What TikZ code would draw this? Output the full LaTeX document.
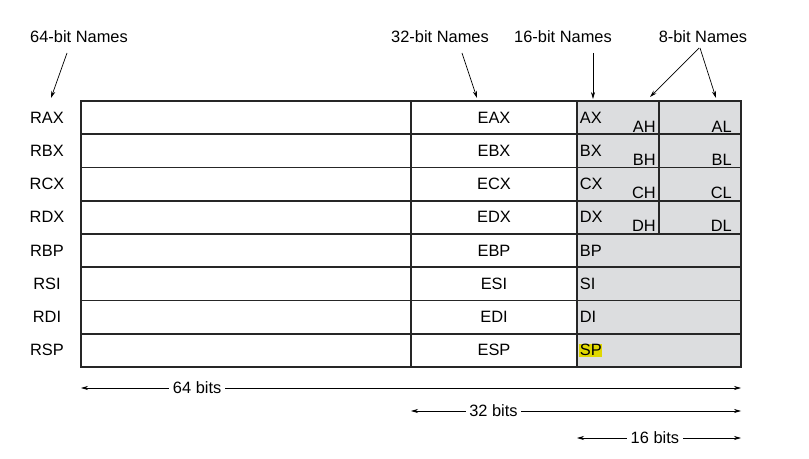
\documentclass[tikz,border=0pt]{standalone}
\usepackage{fontspec}
\setmainfont{Liberation Sans}
\usetikzlibrary{positioning,arrows.meta}
\definecolor{regfill}{HTML}{DCDDDF}
\definecolor{spmark}{HTML}{E0D800}
\definecolor{regline}{HTML}{262626}

\begin{document}
\begin{tikzpicture}[x=0.03cm,y=-0.03cm,
    font=\fontsize{14}{16}\selectfont,
    >={Stealth[length=6pt,width=3.5pt]},
    grid/.style={draw=regline,line width=1.5pt},
    pointer/.style={->,line width=0.6pt},
    span/.style={<->,line width=0.6pt},
    lbl/.style={inner sep=0.5pt}]
    \useasboundingbox (0,0) rectangle (809,459);

    % Ecken der Tabelle
    \coordinate (tl) at (81,101);
    \coordinate (br) at (741,367);

    % 16-bit Bereich grau
    \fill[regfill] (577,101) rectangle (br);

    % Register
    \foreach \r/\hl [count=\i from 0] in {AX/none,BX/none,CX/none,DX/none,BP/none,SI/none,DI/none,SP/spmark} {
        \pgfmathsetmacro{\ytop}{101+33.25*\i}
        \pgfmathsetmacro{\ymid}{\ytop+16.6}
        \draw[grid] (81,\ytop) rectangle (741,\ytop+33.25);
        \node[lbl] (R\r) at (47,\ymid) {R\r};
        \node[lbl] (E\r) at (494,\ymid) {E\r};
        \node[lbl,anchor=west,fill=\hl] (X\r) at (579,\ymid) {\r};
    }

    % 8-bit Register
    \foreach \r [count=\i from 1] in {A,B,C,D} {
        \pgfmathsetmacro{\ybot}{101+33.25*\i}
        \node[inner sep=0pt,anchor=base east] (\r H) at (656,\ybot-2) {\r H};
        \node[inner sep=0pt,anchor=base east] (\r L) at (732,\ybot-2) {\r L};
    }

    % Trennlinien
    \draw[grid] (411,101) -- (411,367);
    \draw[grid] (577,101) -- (577,367);
    \draw[grid] (659,101) -- (659,234);

    % Namen oben
    \node (n64) at (79,37) {64-bit Names};
    \node (n32) at (440,37) {32-bit Names};
    \node (n16) at (563,37) {16-bit Names};
    \node (n8) at (703,37) {8-bit Names};

    \coordinate (p64) at (51,98);
    \coordinate (p32) at (477,98);
    \coordinate (p16) at (593,99);
    \coordinate (p8h) at (650,97);
    \coordinate (p8l) at (716,98);

    \draw[pointer] (67,53) -- (p64);
    \draw[pointer] (462,53) -- (p32);
    \draw[pointer] (593,53) -- (p16);
    \draw[pointer] (699,48) -- (p8h);
    \draw[pointer] (700,48) -- (p8l);

    % Breiten unten
    \coordinate (b64) at (81,388);
    \coordinate (b32) at (411,411);
    \coordinate (b16) at (577,438);
    \draw[span] (b64) -- (741,388) node[pos=0.176,fill=white,inner sep=3pt] (w64) {64 bits};
    \draw[span] (b32) -- (741,411) node[pos=0.25,fill=white,inner sep=3pt] (w32) {32 bits};
    \draw[span] (b16) -- (741,438) node[pos=0.475,fill=white,inner sep=3pt] (w16) {16 bits};
\end{tikzpicture}
\end{document}
